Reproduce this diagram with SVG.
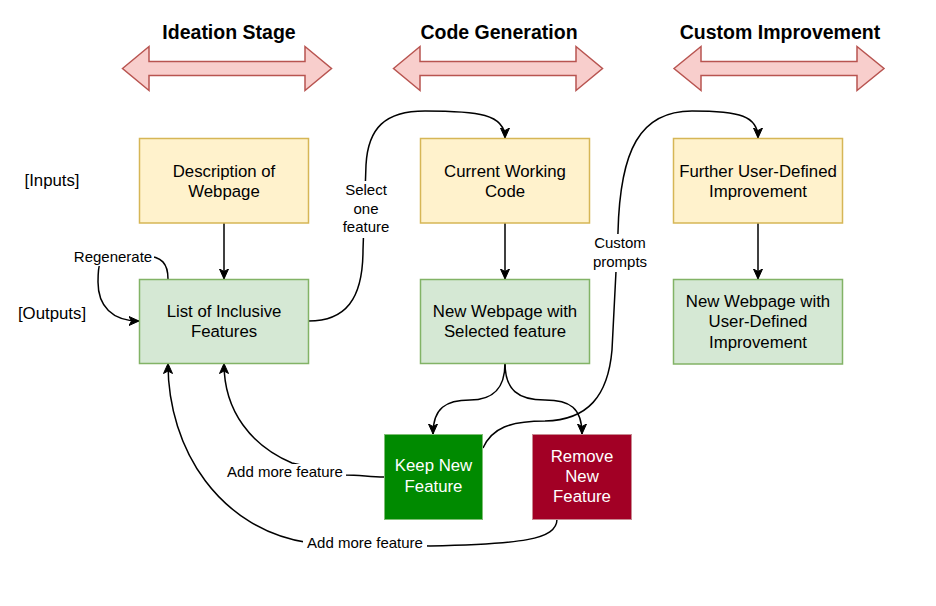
<svg xmlns="http://www.w3.org/2000/svg" width="936" height="606" viewBox="0 0 936 606">
<defs>
<marker id="arr" markerUnits="userSpaceOnUse" markerWidth="12" markerHeight="12" refX="10" refY="5" orient="auto">
<path d="M0,0.5 L10,5 L0,9.5 L2.5,5 z" fill="#000" stroke="#000" stroke-width="1"/>
</marker>
<style>
text{font-family:"Liberation Sans",Arial,sans-serif;fill:#000;}
.t{font-size:16.8px;text-anchor:middle;}
.h{font-size:19.5px;font-weight:bold;text-anchor:middle;}
.e{font-size:15px;text-anchor:middle;}
.side{font-size:16.8px;text-anchor:middle;}
.w{fill:#fff !important;}
.y{fill:#fff2cc;stroke:#d6b656;stroke-width:1.5;}
.g{fill:#d5e8d4;stroke:#82b366;stroke-width:1.5;}
.dbl{fill:#f8cecc;stroke:#b85450;stroke-width:1.5;}
.c{fill:none;stroke:#000;stroke-width:1.5;}
.ca{fill:none;stroke:#000;stroke-width:1.5;marker-end:url(#arr);}
.bg{fill:#fff;stroke:none;}
</style>
</defs>
<rect width="936" height="606" fill="#fff"/>

<g id="stage-ideation">
<polygon class="dbl" points="122.5,68.5 149,46.5 149,61.5 305,61.5 305,46.5 331.5,68.5 305,90.5 305,75.5 149,75.5 149,90.5"/>
<text class="h" x="229" y="39">Ideation Stage</text>
</g>
<g id="stage-code">
<polygon class="dbl" points="393.5,68.5 420,46.5 420,61.5 576,61.5 576,46.5 602.5,68.5 576,90.5 576,75.5 420,75.5 420,90.5"/>
<text class="h" x="499" y="39">Code Generation</text>
</g>
<g id="stage-custom">
<polygon class="dbl" points="674,68.5 701,46.5 701,61.5 857,61.5 857,46.5 884,68.5 857,90.5 857,75.5 701,75.5 701,90.5"/>
<text class="h" x="780" y="39">Custom Improvement</text>
</g>

<g id="label-inputs"><text class="side" x="52" y="186">[Inputs]</text></g>
<g id="label-outputs"><text class="side" x="52" y="319">[Outputs]</text></g>

<g id="connectors">
<path class="ca" d="M224,223 L224,279"/>
<path class="ca" d="M505,223 L505,279"/>
<path class="ca" d="M758,223 L758,279"/>
<path class="ca" d="M168,279 C168,264 162,256 145,256 L110,256 C100,256 98,264 98,282 C98,306 112,321 139,321"/>
<path class="ca" d="M308.5,321 C345,321 363,300 363,250 L366,165 C368,128 385,111 425,111 C478,111 505,114 505,138"/>
<path class="ca" d="M505,363 C505,390 492,400 470,400 C446,400 433,408 433,434"/>
<path class="ca" d="M505,363 C505,390 518,400 545,400 C570,400 582,408 582,434"/>
<path class="ca" d="M483,448 C492,428 510,421 545,421 C588,420 608,396 612,350 L618,232 C620,150 640,111 692,111 C740,111 758,116 758,138"/>
<path class="ca" d="M384,477 C370,477 360,475 345,475 L292,463 C252,446 224,412 224,363.5"/>
<path class="ca" d="M557,519 C557,540 520,544 430,546 L310,543 C220,530 168,450 168,363.5"/>

<rect class="bg" x="72" y="249" width="82" height="17"/>
<text class="e" x="113" y="262">Regenerate</text>
<rect class="bg" x="340" y="181" width="52" height="57"/>
<text class="e" x="366" y="195">Select</text>
<text class="e" x="366" y="214">one</text>
<text class="e" x="366" y="232">feature</text>
<rect class="bg" x="590" y="234" width="60" height="38"/>
<text class="e" x="620" y="248">Custom</text>
<text class="e" x="620" y="267">prompts</text>
<rect class="bg" x="224" y="464" width="122" height="17"/>
<text class="e" x="285" y="477">Add more feature</text>
<rect class="bg" x="303" y="535" width="124" height="17"/>
<text class="e" x="365" y="548">Add more feature</text>
</g>

<g id="node-description">
<rect class="y" x="139.5" y="138.5" width="169" height="84.5"/>
<text class="t" x="224" y="176.5">Description of</text>
<text class="t" x="224" y="197">Webpage</text>
</g>
<g id="node-list">
<rect class="g" x="139.5" y="279.5" width="169" height="84"/>
<text class="t" x="224" y="316.5">List of Inclusive</text>
<text class="t" x="224" y="337">Features</text>
</g>
<g id="node-current">
<rect class="y" x="420.5" y="138.5" width="169" height="84.5"/>
<text class="t" x="505" y="176.5">Current Working</text>
<text class="t" x="505" y="197">Code</text>
</g>
<g id="node-newpage">
<rect class="g" x="420.5" y="279.5" width="169" height="84"/>
<text class="t" x="505" y="316.5">New Webpage with</text>
<text class="t" x="505" y="337">Selected feature</text>
</g>
<g id="node-further">
<rect class="y" x="673.5" y="138.5" width="169" height="84.5"/>
<text class="t" x="758" y="176.5">Further User-Defined</text>
<text class="t" x="758" y="197">Improvement</text>
</g>
<g id="node-newpage-ud">
<rect class="g" x="673.5" y="279.5" width="169" height="84.5"/>
<text class="t" x="758" y="307">New Webpage with</text>
<text class="t" x="758" y="327">User-Defined</text>
<text class="t" x="758" y="347.5">Improvement</text>
</g>
<g id="node-keep">
<rect x="384.5" y="434.5" width="98" height="85" fill="#008a00" stroke="#7fbf75" stroke-width="1"/>
<text class="t w" x="433.5" y="471">Keep New</text>
<text class="t w" x="433.5" y="492">Feature</text>
</g>
<g id="node-remove">
<rect x="532.5" y="434.5" width="99" height="85" fill="#a20025" stroke="#c98a92" stroke-width="1"/>
<text class="t w" x="582" y="462">Remove</text>
<text class="t w" x="582" y="482">New</text>
<text class="t w" x="582" y="502">Feature</text>
</g>
</svg>
